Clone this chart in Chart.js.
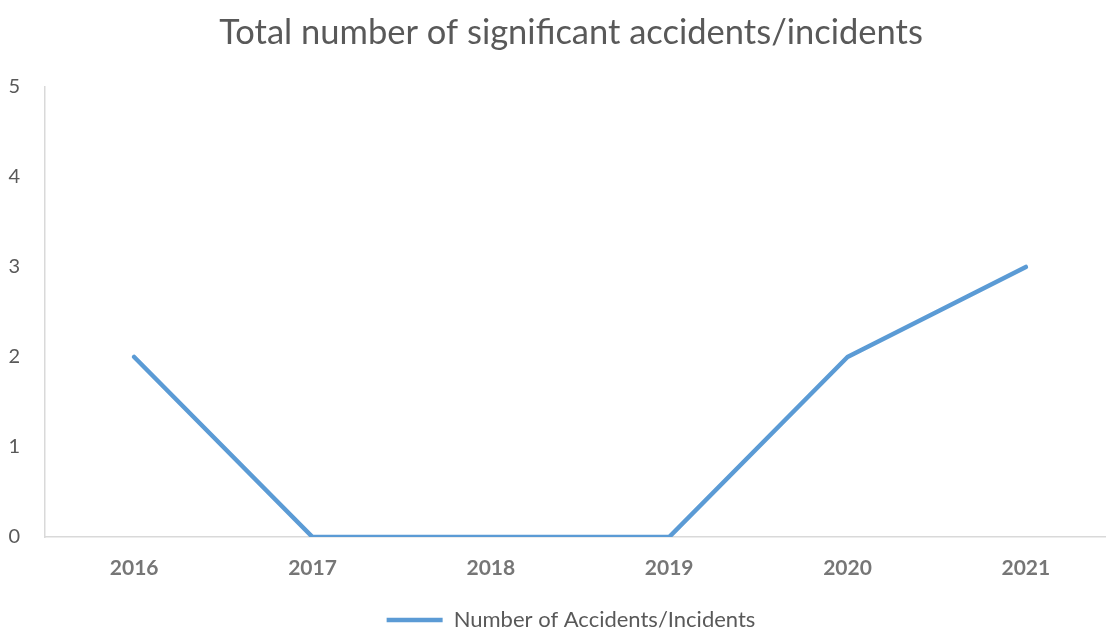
<!DOCTYPE html>
<html>
<head>
<meta charset="utf-8">
<script src="https://cdn.jsdelivr.net/npm/chart.js@4"></script>
<style>
  html, body { margin: 0; padding: 0; background: #fff; overflow: hidden; }
  #wrap { width: 1142px; height: 641px; }
</style>
</head>
<body>
<div id="wrap"><canvas id="chart"></canvas></div>
<script>
const years = ['2016', '2017', '2018', '2019', '2020', '2021'];
const accidents = [2, 0, 0, 0, 2, 3];
const yTicks = [0, 1, 2, 3, 4, 5];

const grey = '#595959';
const axisGrey = '#d9d9d9';
const blue = '#5b9bd5';

Chart.defaults.font.family = 'Lato, "Open Sans", sans-serif';
Chart.defaults.color = grey;

const ctx = document.getElementById('chart').getContext('2d');
new Chart(ctx, {
  type: 'line',
  data: {
    labels: years,
    datasets: [{
      label: 'Number of Accidents/Incidents',
      data: accidents,
      borderColor: blue,
      backgroundColor: blue,
      borderWidth: 4.5,
      borderCapStyle: 'round',
      borderJoinStyle: 'round',
      pointRadius: 0,
      tension: 0,
      fill: false
    }]
  },
  options: {
    responsive: true,
    maintainAspectRatio: false,
    animation: false,
    layout: { padding: 0 },
    scales: {
      x: {
        offset: true,
        grid: { display: false, drawTicks: false },
        border: { display: true, color: axisGrey, width: 1.5 },
        ticks: { color: '#767676', font: { size: 21, weight: 'bold' }, padding: 19 },
        afterFit: s => { s.height = 72; }
      },
      y: {
        min: 0,
        max: 5,
        afterBuildTicks: s => { s.ticks = yTicks.map(v => ({ value: v })); },
        grid: { display: false, drawTicks: false },
        border: { display: true, color: axisGrey, width: 1.5 },
        ticks: { color: grey, font: { size: 20 }, padding: 25 },
        afterFit: s => { s.width = 45; }
      },
      // empty axis on the right: keeps the plot edge while title/legend stay centred on the full width
      yRight: {
        position: 'right',
        display: true,
        grid: { display: false, drawTicks: false },
        border: { display: false },
        ticks: { display: false },
        afterFit: s => { s.width = 27; }
      }
    },
    plugins: {
      title: {
        display: true,
        text: 'Total number of significant accidents/incidents',
        color: grey,
        font: { size: 34.5, weight: 'normal' },
        padding: { top: 12, bottom: 33.5 }
      },
      legend: {
        position: 'bottom',
        labels: {
          usePointStyle: true,
          pointStyle: 'line',
          pointStyleWidth: 56,
          boxHeight: 10,
          color: grey,
          font: { size: 22, lineHeight: 1 },
          padding: 0
        }
      },
      tooltip: { enabled: false }
    }
  }
});
</script>
</body>
</html>
